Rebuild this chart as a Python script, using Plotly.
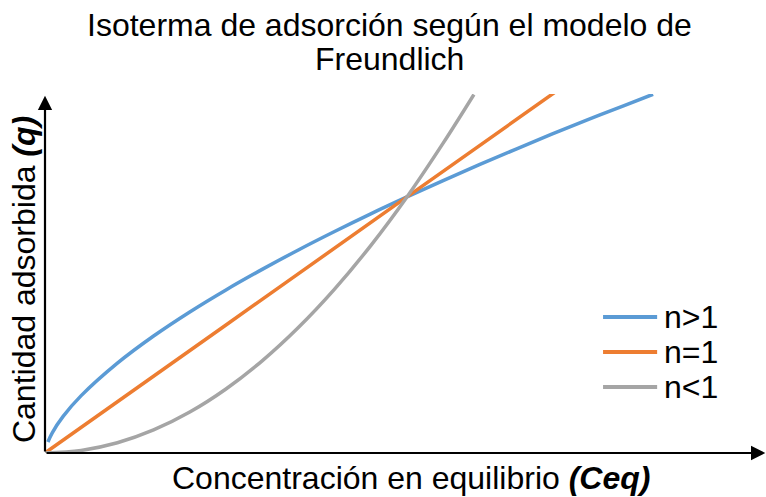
import plotly.graph_objects as go

# Values (Ceq, q); curves cross at (1, 1)
x_n_gt1 = [0.008, 0.02, 0.05, 0.1, 0.2, 0.3, 0.4, 0.5, 0.6, 0.7, 0.8, 0.9, 1.0,
           1.1, 1.2, 1.3, 1.4, 1.5, 1.6, 1.68]
q_n_gt1 = [0.043, 0.079, 0.143, 0.224, 0.351, 0.457, 0.551, 0.637, 0.717, 0.793,
           0.865, 0.934, 1.0, 1.064, 1.126, 1.186, 1.245, 1.302, 1.357, 1.401]

x_n_eq1 = [0.0, 0.5, 1.0, 1.41]
q_n_eq1 = [0.0, 0.5, 1.0, 1.41]

x_n_lt1 = [0.0, 0.1, 0.2, 0.3, 0.4, 0.5, 0.6, 0.7, 0.8, 0.9, 1.0, 1.1, 1.185]
q_n_lt1 = [0.0, 0.01, 0.04, 0.09, 0.16, 0.25, 0.36, 0.49, 0.64, 0.81, 1.0, 1.21, 1.40]

series_names = ["n>1", "n=1", "n<1"]
colors = ["#5B9BD5", "#ED7D31", "#A5A5A5"]

title_lines = ["Isoterma de adsorción según el modelo de", "Freundlich"]
x_title = "Concentración en equilibrio <b><i>(Ceq)</i></b>"
y_title = "Cantidad adsorbida <b><i>(q)</i></b>"

FONT = "Liberation Sans, Arial, sans-serif"
FS = 32

fig = go.Figure()
for i, (xs, qs) in enumerate([(x_n_gt1, q_n_gt1), (x_n_eq1, q_n_eq1), (x_n_lt1, q_n_lt1)]):
    fig.add_trace(go.Scatter(
        x=xs, y=qs, mode="lines", name=series_names[i],
        line=dict(color=colors[i], width=3.5, shape="spline"),
        showlegend=False,
    ))

x_max = 1.992
y_max = 1.402

fig.update_layout(
    width=766, height=497,
    margin=dict(l=45, r=0, t=94, b=44),
    paper_bgcolor="white", plot_bgcolor="white",
    font=dict(family=FONT, size=FS, color="black"),
    xaxis=dict(range=[0, x_max], showgrid=False, zeroline=False, showticklabels=False,
               showline=False, ticks=""),
    yaxis=dict(range=[0, y_max], showgrid=False, zeroline=False, showticklabels=False,
               showline=False, ticks=""),
    showlegend=False,
)

# title (two lines, tight spacing)
fig.add_annotation(text=title_lines[0], x=0.4785, y=1.193, xref="paper", yref="paper",
                   showarrow=False, xanchor="center", yanchor="middle", font=dict(size=FS))
fig.add_annotation(text=title_lines[1], x=0.4785, y=1.098, xref="paper", yref="paper",
                   showarrow=False, xanchor="center", yanchor="middle", font=dict(size=FS))
# axis titles
fig.add_annotation(text=x_title, x=0.5076, y=-0.07, xref="paper", yref="paper",
                   showarrow=False, xanchor="center", yanchor="middle", font=dict(size=FS))
fig.add_annotation(text=y_title, x=-0.029, y=0.482, xref="paper", yref="paper",
                   showarrow=False, xanchor="center", yanchor="middle", textangle=-90,
                   font=dict(size=FS))

# legend
leg_y = [0.3788, 0.2813, 0.1838]
for i, name in enumerate(series_names):
    fig.add_shape(type="line", xref="paper", yref="paper", x0=0.774, x1=0.849,
                  y0=leg_y[i], y1=leg_y[i], line=dict(color=colors[i], width=4))
    fig.add_annotation(text=name, x=0.8558, y=leg_y[i], xref="paper", yref="paper",
                       showarrow=False, xanchor="left", yanchor="middle", font=dict(size=FS))

# axes with arrow heads
fig.add_annotation(x=x_max * 0.999, y=0, ax=0, ay=0, xref="x", yref="y", axref="x", ayref="y",
                   text="", showarrow=True, arrowhead=2, arrowsize=1.3, arrowwidth=2.2,
                   arrowcolor="black")
fig.add_annotation(x=0, y=y_max * 0.995, ax=0, ay=0, xref="x", yref="y", axref="x", ayref="y",
                   text="", showarrow=True, arrowhead=2, arrowsize=1.3, arrowwidth=2.2,
                   arrowcolor="black")

fig.write_html("out.html", config={"displayModeBar": False},
               post_script="document.body.style.margin='0';document.body.style.overflow='hidden';")
